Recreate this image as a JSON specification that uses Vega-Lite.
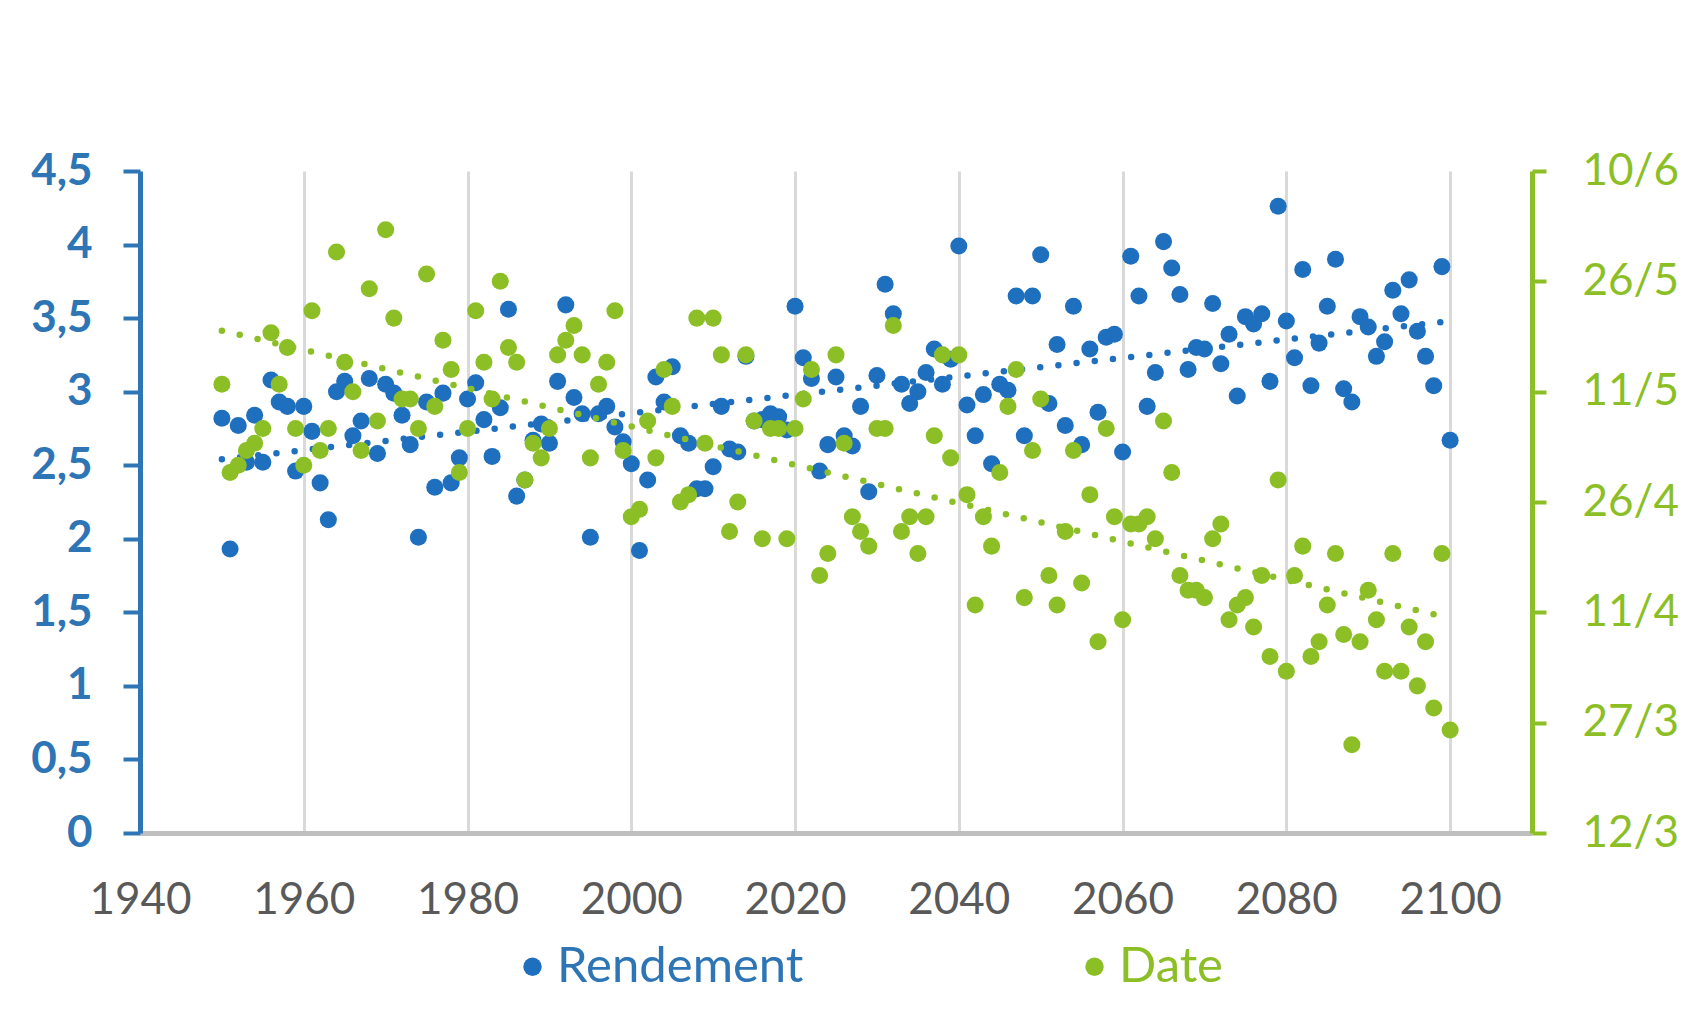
{
  "$schema": "https://vega.github.io/schema/vega-lite/v6.json",
  "width": 1392,
  "height": 662,
  "autosize": {"type": "none"},
  "padding": {"left": 140, "top": 171, "right": 164, "bottom": 183},
  "background": "white",
  "config": {"view": {"stroke": null}, "font": "Lato"},
  "data": {"values": [
    {"annee":1950,"rendement":2.82,"date":"2001-05-12T00:00"},
    {"annee":1951,"rendement":1.93,"date":"2001-04-30T00:00"},
    {"annee":1952,"rendement":2.77,"date":"2001-05-01T00:00"},
    {"annee":1953,"rendement":2.52,"date":"2001-05-03T00:00"},
    {"annee":1954,"rendement":2.84,"date":"2001-05-04T00:00"},
    {"annee":1955,"rendement":2.52,"date":"2001-05-06T00:00"},
    {"annee":1956,"rendement":3.08,"date":"2001-05-19T00:00"},
    {"annee":1957,"rendement":2.93,"date":"2001-05-12T00:00"},
    {"annee":1958,"rendement":2.9,"date":"2001-05-17T00:00"},
    {"annee":1959,"rendement":2.46,"date":"2001-05-06T00:00"},
    {"annee":1960,"rendement":2.9,"date":"2001-05-01T00:00"},
    {"annee":1961,"rendement":2.73,"date":"2001-05-22T00:00"},
    {"annee":1962,"rendement":2.38,"date":"2001-05-03T00:00"},
    {"annee":1963,"rendement":2.13,"date":"2001-05-06T00:00"},
    {"annee":1964,"rendement":3.0,"date":"2001-05-30T00:00"},
    {"annee":1965,"rendement":3.07,"date":"2001-05-15T00:00"},
    {"annee":1966,"rendement":2.7,"date":"2001-05-11T00:00"},
    {"annee":1967,"rendement":2.8,"date":"2001-05-03T00:00"},
    {"annee":1968,"rendement":3.09,"date":"2001-05-25T00:00"},
    {"annee":1969,"rendement":2.58,"date":"2001-05-07T00:00"},
    {"annee":1970,"rendement":3.05,"date":"2001-06-02T00:00"},
    {"annee":1971,"rendement":2.99,"date":"2001-05-21T00:00"},
    {"annee":1972,"rendement":2.84,"date":"2001-05-10T00:00"},
    {"annee":1973,"rendement":2.64,"date":"2001-05-10T00:00"},
    {"annee":1974,"rendement":2.01,"date":"2001-05-06T00:00"},
    {"annee":1975,"rendement":2.93,"date":"2001-05-27T00:00"},
    {"annee":1976,"rendement":2.35,"date":"2001-05-09T00:00"},
    {"annee":1977,"rendement":2.99,"date":"2001-05-18T00:00"},
    {"annee":1978,"rendement":2.38,"date":"2001-05-14T00:00"},
    {"annee":1979,"rendement":2.55,"date":"2001-04-30T00:00"},
    {"annee":1980,"rendement":2.95,"date":"2001-05-06T00:00"},
    {"annee":1981,"rendement":3.06,"date":"2001-05-22T00:00"},
    {"annee":1982,"rendement":2.81,"date":"2001-05-15T00:00"},
    {"annee":1983,"rendement":2.56,"date":"2001-05-10T00:00"},
    {"annee":1984,"rendement":2.89,"date":"2001-05-26T00:00"},
    {"annee":1985,"rendement":3.56,"date":"2001-05-17T00:00"},
    {"annee":1986,"rendement":2.29,"date":"2001-05-15T00:00"},
    {"annee":1987,"rendement":2.4,"date":"2001-04-29T00:00"},
    {"annee":1988,"rendement":2.67,"date":"2001-05-04T00:00"},
    {"annee":1989,"rendement":2.78,"date":"2001-05-02T00:00"},
    {"annee":1990,"rendement":2.65,"date":"2001-05-06T00:00"},
    {"annee":1991,"rendement":3.07,"date":"2001-05-16T00:00"},
    {"annee":1992,"rendement":3.59,"date":"2001-05-18T00:00"},
    {"annee":1993,"rendement":2.96,"date":"2001-05-20T00:00"},
    {"annee":1994,"rendement":2.85,"date":"2001-05-16T00:00"},
    {"annee":1995,"rendement":2.01,"date":"2001-05-02T00:00"},
    {"annee":1996,"rendement":2.85,"date":"2001-05-12T00:00"},
    {"annee":1997,"rendement":2.9,"date":"2001-05-15T00:00"},
    {"annee":1998,"rendement":2.76,"date":"2001-05-22T00:00"},
    {"annee":1999,"rendement":2.66,"date":"2001-05-03T00:00"},
    {"annee":2000,"rendement":2.51,"date":"2001-04-24T00:00"},
    {"annee":2001,"rendement":1.92,"date":"2001-04-25T00:00"},
    {"annee":2002,"rendement":2.4,"date":"2001-05-07T00:00"},
    {"annee":2003,"rendement":3.1,"date":"2001-05-02T00:00"},
    {"annee":2004,"rendement":2.93,"date":"2001-05-14T00:00"},
    {"annee":2005,"rendement":3.17,"date":"2001-05-09T00:00"},
    {"annee":2006,"rendement":2.7,"date":"2001-04-26T00:00"},
    {"annee":2007,"rendement":2.65,"date":"2001-04-27T00:00"},
    {"annee":2008,"rendement":2.34,"date":"2001-05-21T00:00"},
    {"annee":2009,"rendement":2.34,"date":"2001-05-04T00:00"},
    {"annee":2010,"rendement":2.49,"date":"2001-05-21T00:00"},
    {"annee":2011,"rendement":2.9,"date":"2001-05-16T00:00"},
    {"annee":2012,"rendement":2.61,"date":"2001-04-22T00:00"},
    {"annee":2013,"rendement":2.59,"date":"2001-04-26T00:00"},
    {"annee":2014,"rendement":3.24,"date":"2001-05-16T00:00"},
    {"annee":2015,"rendement":2.8,"date":"2001-05-07T00:00"},
    {"annee":2016,"rendement":2.81,"date":"2001-04-21T00:00"},
    {"annee":2017,"rendement":2.85,"date":"2001-05-06T00:00"},
    {"annee":2018,"rendement":2.83,"date":"2001-05-06T00:00"},
    {"annee":2019,"rendement":2.74,"date":"2001-04-21T00:00"},
    {"annee":2020,"rendement":3.58,"date":"2001-05-06T00:00"},
    {"annee":2021,"rendement":3.23,"date":"2001-05-10T00:00"},
    {"annee":2022,"rendement":3.09,"date":"2001-05-14T00:00"},
    {"annee":2023,"rendement":2.46,"date":"2001-04-16T00:00"},
    {"annee":2024,"rendement":2.64,"date":"2001-04-19T00:00"},
    {"annee":2025,"rendement":3.1,"date":"2001-05-16T00:00"},
    {"annee":2026,"rendement":2.7,"date":"2001-05-04T00:00"},
    {"annee":2027,"rendement":2.63,"date":"2001-04-24T00:00"},
    {"annee":2028,"rendement":2.9,"date":"2001-04-22T00:00"},
    {"annee":2029,"rendement":2.32,"date":"2001-04-20T00:00"},
    {"annee":2030,"rendement":3.11,"date":"2001-05-06T00:00"},
    {"annee":2031,"rendement":3.73,"date":"2001-05-06T00:00"},
    {"annee":2032,"rendement":3.53,"date":"2001-05-20T00:00"},
    {"annee":2033,"rendement":3.05,"date":"2001-04-22T00:00"},
    {"annee":2034,"rendement":2.92,"date":"2001-04-24T00:00"},
    {"annee":2035,"rendement":3.0,"date":"2001-04-19T00:00"},
    {"annee":2036,"rendement":3.13,"date":"2001-04-24T00:00"},
    {"annee":2037,"rendement":3.29,"date":"2001-05-05T00:00"},
    {"annee":2038,"rendement":3.05,"date":"2001-05-16T00:00"},
    {"annee":2039,"rendement":3.22,"date":"2001-05-02T00:00"},
    {"annee":2040,"rendement":3.99,"date":"2001-05-16T00:00"},
    {"annee":2041,"rendement":2.91,"date":"2001-04-27T00:00"},
    {"annee":2042,"rendement":2.7,"date":"2001-04-12T00:00"},
    {"annee":2043,"rendement":2.98,"date":"2001-04-24T00:00"},
    {"annee":2044,"rendement":2.51,"date":"2001-04-20T00:00"},
    {"annee":2045,"rendement":3.05,"date":"2001-04-30T00:00"},
    {"annee":2046,"rendement":3.01,"date":"2001-05-09T00:00"},
    {"annee":2047,"rendement":3.65,"date":"2001-05-14T00:00"},
    {"annee":2048,"rendement":2.7,"date":"2001-04-13T00:00"},
    {"annee":2049,"rendement":3.65,"date":"2001-05-03T00:00"},
    {"annee":2050,"rendement":3.93,"date":"2001-05-10T00:00"},
    {"annee":2051,"rendement":2.92,"date":"2001-04-16T00:00"},
    {"annee":2052,"rendement":3.32,"date":"2001-04-12T00:00"},
    {"annee":2053,"rendement":2.77,"date":"2001-04-22T00:00"},
    {"annee":2054,"rendement":3.58,"date":"2001-05-03T00:00"},
    {"annee":2055,"rendement":2.64,"date":"2001-04-15T00:00"},
    {"annee":2056,"rendement":3.29,"date":"2001-04-27T00:00"},
    {"annee":2057,"rendement":2.86,"date":"2001-04-07T00:00"},
    {"annee":2058,"rendement":3.37,"date":"2001-05-06T00:00"},
    {"annee":2059,"rendement":3.39,"date":"2001-04-24T00:00"},
    {"annee":2060,"rendement":2.59,"date":"2001-04-10T00:00"},
    {"annee":2061,"rendement":3.92,"date":"2001-04-23T00:00"},
    {"annee":2062,"rendement":3.65,"date":"2001-04-23T00:00"},
    {"annee":2063,"rendement":2.9,"date":"2001-04-24T00:00"},
    {"annee":2064,"rendement":3.13,"date":"2001-04-21T00:00"},
    {"annee":2065,"rendement":4.02,"date":"2001-05-07T00:00"},
    {"annee":2066,"rendement":3.84,"date":"2001-04-30T00:00"},
    {"annee":2067,"rendement":3.66,"date":"2001-04-16T00:00"},
    {"annee":2068,"rendement":3.15,"date":"2001-04-14T00:00"},
    {"annee":2069,"rendement":3.3,"date":"2001-04-14T00:00"},
    {"annee":2070,"rendement":3.29,"date":"2001-04-13T00:00"},
    {"annee":2071,"rendement":3.6,"date":"2001-04-21T00:00"},
    {"annee":2072,"rendement":3.19,"date":"2001-04-23T00:00"},
    {"annee":2073,"rendement":3.39,"date":"2001-04-10T00:00"},
    {"annee":2074,"rendement":2.97,"date":"2001-04-12T00:00"},
    {"annee":2075,"rendement":3.51,"date":"2001-04-13T00:00"},
    {"annee":2076,"rendement":3.46,"date":"2001-04-09T00:00"},
    {"annee":2077,"rendement":3.53,"date":"2001-04-16T00:00"},
    {"annee":2078,"rendement":3.07,"date":"2001-04-05T00:00"},
    {"annee":2079,"rendement":4.26,"date":"2001-04-29T00:00"},
    {"annee":2080,"rendement":3.48,"date":"2001-04-03T00:00"},
    {"annee":2081,"rendement":3.23,"date":"2001-04-16T00:00"},
    {"annee":2082,"rendement":3.83,"date":"2001-04-20T00:00"},
    {"annee":2083,"rendement":3.04,"date":"2001-04-05T00:00"},
    {"annee":2084,"rendement":3.33,"date":"2001-04-07T00:00"},
    {"annee":2085,"rendement":3.58,"date":"2001-04-12T00:00"},
    {"annee":2086,"rendement":3.9,"date":"2001-04-19T00:00"},
    {"annee":2087,"rendement":3.02,"date":"2001-04-08T00:00"},
    {"annee":2088,"rendement":2.93,"date":"2001-03-24T00:00"},
    {"annee":2089,"rendement":3.51,"date":"2001-04-07T00:00"},
    {"annee":2090,"rendement":3.44,"date":"2001-04-14T00:00"},
    {"annee":2091,"rendement":3.24,"date":"2001-04-10T00:00"},
    {"annee":2092,"rendement":3.34,"date":"2001-04-03T00:00"},
    {"annee":2093,"rendement":3.69,"date":"2001-04-19T00:00"},
    {"annee":2094,"rendement":3.53,"date":"2001-04-03T00:00"},
    {"annee":2095,"rendement":3.76,"date":"2001-04-09T00:00"},
    {"annee":2096,"rendement":3.41,"date":"2001-04-01T00:00"},
    {"annee":2097,"rendement":3.24,"date":"2001-04-07T00:00"},
    {"annee":2098,"rendement":3.04,"date":"2001-03-29T00:00"},
    {"annee":2099,"rendement":3.85,"date":"2001-04-19T00:00"},
    {"annee":2100,"rendement":2.67,"date":"2001-03-26T00:00"}
  ]},
  "layer": [
    {
      "layer": [
        {
          "mark": {"type": "point", "filled": true, "opacity": 1, "size": 290, "shape": "circle", "strokeWidth": 0},
          "encoding": {
            "x": {
              "field": "annee", "type": "quantitative",
              "scale": {"domain": [1940, 2110], "nice": false, "zero": false},
              "axis": {
                "title": null, "values": [1940, 1960, 1980, 2000, 2020, 2040, 2060, 2080, 2100],
                "format": "d", "grid": true, "gridColor": "#D9D9D9", "gridWidth": 3,
                "domainColor": "#BFBFBF", "domainWidth": 5, "ticks": false,
                "labelFont": "Lato", "labelFontSize": 44, "labelColor": "#595959",
                "labelPadding": 45, "labelFlush": false, "labelOverlap": false
              }
            },
            "y": {
              "field": "rendement", "type": "quantitative",
              "scale": {"domain": [0, 4.5], "nice": false},
              "axis": {
                "title": null, "orient": "left", "values": [0, 0.5, 1, 1.5, 2, 2.5, 3, 3.5, 4, 4.5],
                "labelExpr": "replace(format(datum.value, '~g'), '.', ',')",
                "grid": false, "domainColor": "#2E75B6", "domainWidth": 5,
                "tickColor": "#2E75B6", "tickWidth": 4, "tickSize": 17,
                "labelColor": "#2E75B6", "labelFont": "Lato", "labelFontWeight": "bold",
                "labelFontSize": 44, "labelPadding": 31, "labelFlush": false, "labelOverlap": false
              }
            },
            "color": {
              "datum": "Rendement", "type": "nominal",
              "scale": {"domain": ["Rendement", "Date"], "range": ["#1F6FBF", "#8CBF26"]},
              "legend": {
                "title": null, "orient": "none", "legendX": 368, "legendY": 771,
                "direction": "horizontal", "symbolType": "circle", "symbolSize": 340,
                "symbolStrokeWidth": 0, "labelFont": "Lato", "labelFontSize": 49,
                "labelOffset": 0, "columnPadding": 266, "labelLimit": 0,
                "labelColor": {"expr": "datum.value === 'Date' ? '#8CBF26' : '#2E75B6'"}
              }
            }
          }
        },
        {
          "data": {"values": [
            {"annee": 1950, "rendement": 2.54},
            {"annee": 2100, "rendement": 3.48}
          ]},
          "mark": {"type": "line", "color": "#1F6FBF", "strokeWidth": 6.5, "strokeDash": [0, 18.3], "strokeCap": "round"},
          "encoding": {
            "x": {"field": "annee", "type": "quantitative"},
            "y": {"field": "rendement", "type": "quantitative"}
          }
        }
      ]
    },
    {
      "layer": [
        {
          "mark": {"type": "point", "filled": true, "opacity": 1, "size": 290, "shape": "circle", "strokeWidth": 0},
          "encoding": {
            "x": {"field": "annee", "type": "quantitative"},
            "y": {
              "field": "date", "type": "temporal",
              "scale": {"domain": [{"year": 2001, "month": 3, "date": 12}, {"year": 2001, "month": 6, "date": 10}], "nice": false},
              "axis": {
                "title": null, "orient": "right",
                "values": [
                  {"year": 2001, "month": 3, "date": 12},
                  {"year": 2001, "month": 3, "date": 27},
                  {"year": 2001, "month": 4, "date": 11},
                  {"year": 2001, "month": 4, "date": 26},
                  {"year": 2001, "month": 5, "date": 11},
                  {"year": 2001, "month": 5, "date": 26},
                  {"year": 2001, "month": 6, "date": 10}
                ],
                "format": "%-d/%-m", "grid": false,
                "domainColor": "#8CBF26", "domainWidth": 5,
                "tickColor": "#8CBF26", "tickWidth": 4, "tickSize": 14,
                "labelColor": "#8CBF26", "labelFont": "Lato", "labelFontSize": 44,
                "labelPadding": 36, "labelFlush": false, "labelOverlap": false
              }
            },
            "color": {"datum": "Date", "type": "nominal"}
          }
        },
        {
          "data": {"values": [
            {"annee": 1950, "date": "2001-05-19T07:00"},
            {"annee": 2100, "date": "2001-04-10T05:00"}
          ]},
          "mark": {"type": "line", "color": "#8CBF26", "strokeWidth": 6.5, "strokeDash": [0, 18.3], "strokeCap": "round"},
          "encoding": {
            "x": {"field": "annee", "type": "quantitative"},
            "y": {"field": "date", "type": "temporal"}
          }
        }
      ]
    }
  ],
  "resolve": {"scale": {"y": "independent"}}
}
